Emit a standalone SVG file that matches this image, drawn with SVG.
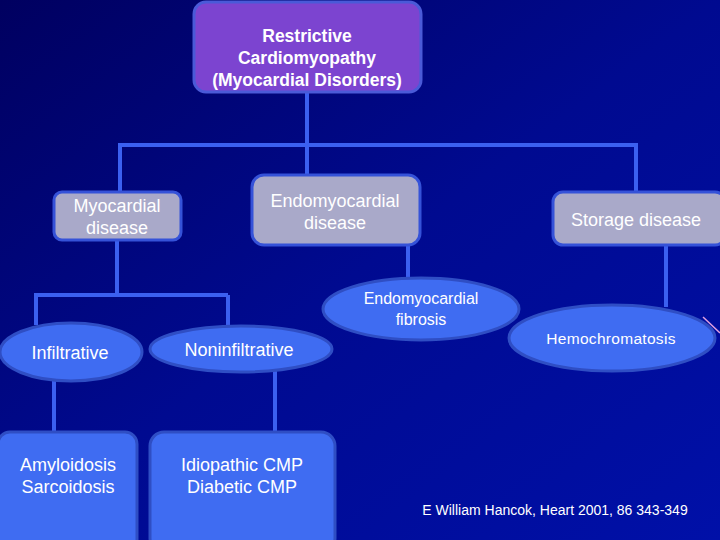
<svg xmlns="http://www.w3.org/2000/svg" width="720" height="540" viewBox="0 0 720 540">
<defs>
<linearGradient id="bg" x1="0" y1="0" x2="1" y2="1">
<stop offset="0" stop-color="#000060"/>
<stop offset="0.5" stop-color="#000a90"/>
<stop offset="1" stop-color="#0010a8"/>
</linearGradient>
<style>
.t{font-family:"Liberation Sans",Arial,sans-serif;fill:#ffffff;text-anchor:middle}
.grey{fill:#a9a9c9;stroke:#3552d8;stroke-width:3}
.blue{fill:#3f6cf2;stroke:#2f4ec4;stroke-width:3}
.conn{stroke:#3b60f0;stroke-width:4;fill:none}
</style>
</defs>
<rect width="720" height="540" fill="url(#bg)"/>
<g id="connectors" class="conn">
<path d="M307 92V145M120 145H636M120 143V193M307 145V176M636 143V193"/>
<path d="M117 240V296M36 295H228M36 293V325M228 295V328"/>
<path d="M408 245V280M666 245V307"/>
<path d="M54 380V432M275 371V432"/>
</g>
<g id="n_root">
<rect x="194" y="2" width="227" height="90" rx="12" fill="#7c44d0" stroke="#4a5ad8" stroke-width="3"/>
<text class="t" font-weight="bold" font-size="17.5"><tspan x="307" y="42">Restrictive</tspan><tspan x="307" y="64">Cardiomyopathy</tspan><tspan x="307" y="86">(Myocardial Disorders)</tspan></text>
</g>
<g id="n_myocardial">
<rect class="grey" x="54" y="192" width="127" height="48" rx="8"/>
<text class="t" font-size="18"><tspan x="117" y="212">Myocardial</tspan><tspan x="117" y="234">disease</tspan></text>
</g>
<g id="n_endo">
<rect class="grey" x="252" y="175" width="168" height="70" rx="12"/>
<text class="t" font-size="18"><tspan x="335" y="207">Endomyocardial</tspan><tspan x="335" y="229">disease</tspan></text>
</g>
<g id="n_storage">
<rect class="grey" x="553" y="192" width="172" height="53" rx="10"/>
<text class="t" font-size="18" x="636" y="226">Storage disease</text>
</g>
<g id="n_infiltrative">
<ellipse class="blue" cx="71" cy="352" rx="71" ry="29"/>
<text class="t" font-size="18" x="70" y="359">Infiltrative</text>
</g>
<g id="n_noninfiltrative">
<ellipse class="blue" cx="241" cy="349" rx="91" ry="23"/>
<text class="t" font-size="18" x="239" y="356">Noninfiltrative</text>
</g>
<g id="n_fibrosis">
<ellipse class="blue" cx="421" cy="309" rx="98" ry="31"/>
<text class="t" font-size="16"><tspan x="421" y="304">Endomyocardial</tspan><tspan x="421" y="325">fibrosis</tspan></text>
</g>
<g id="n_hemo">
<ellipse class="blue" cx="612" cy="338" rx="103" ry="33"/>
<text class="t" font-size="15.5" x="611" y="344" letter-spacing="0.3">Hemochromatosis</text>
</g>
<g id="n_amyloid">
<rect class="blue" x="-2" y="432" width="139" height="120" rx="12"/>
<text class="t" font-size="18"><tspan x="68" y="471">Amyloidosis</tspan><tspan x="68" y="493">Sarcoidosis</tspan></text>
</g>
<g id="n_idiopathic">
<rect class="blue" x="150" y="432" width="185" height="120" rx="14"/>
<text class="t" font-size="18"><tspan x="242" y="471">Idiopathic CMP</tspan><tspan x="242" y="493">Diabetic CMP</tspan></text>
</g>
<line x1="703" y1="317" x2="720" y2="333" stroke="#e0a0e0" stroke-width="1.5"/>
<text class="t" font-size="14" x="555" y="515">E William Hancok, Heart 2001, 86 343-349</text>
</svg>
